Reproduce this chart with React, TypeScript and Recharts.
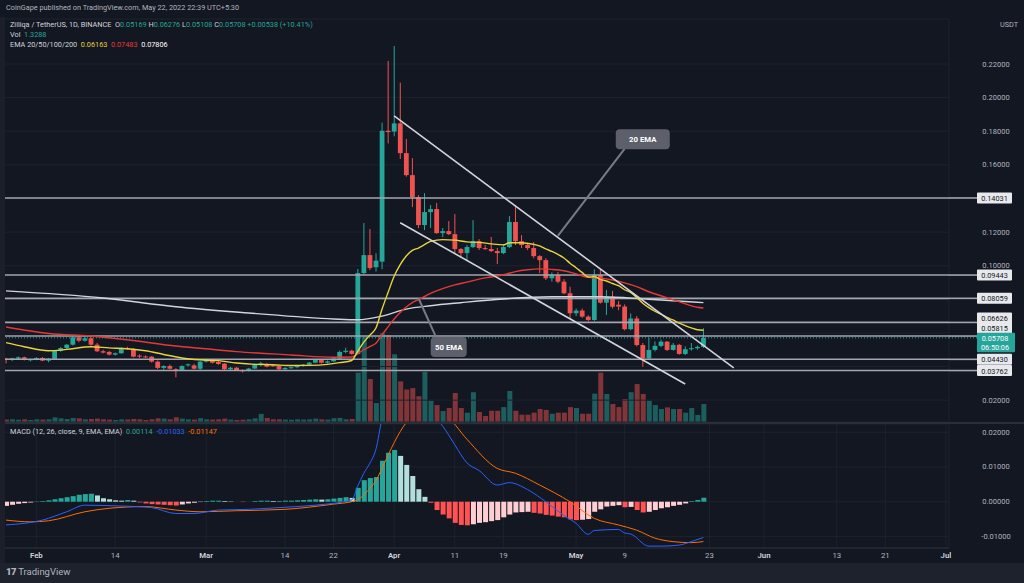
import React from "react";
import {
  ComposedChart,
  Bar,
  Line,
  XAxis,
  YAxis,
  CartesianGrid,
  ReferenceLine,
  ReferenceDot,
  Cell,
} from "recharts";

const FONT = "Roboto, 'Liberation Sans', Arial, sans-serif";
const BG = "#131722";
const UP = "#26a69a";
const DOWN = "#ef5350";
const TXT = "#b2b5be";
const GRID = "#1e222d";

// ---- Daily candles, 27 Jan 2022 .. 22 May 2022 (ZIL/USDT, Binance) ----
const openP = [
  0.0447, 0.0439, 0.0447, 0.0455, 0.044, 0.0443, 0.0451, 0.0435, 0.0445, 0.0494,
  0.051, 0.053, 0.0574, 0.0554, 0.0568, 0.053, 0.0491, 0.0487, 0.0471, 0.0479,
  0.051, 0.0505, 0.0465, 0.046, 0.0459, 0.0429, 0.0392, 0.0403, 0.0384, 0.038,
  0.0411, 0.0407, 0.0387, 0.0429, 0.0433, 0.0427, 0.0417, 0.0384, 0.0393, 0.0378,
  0.0376, 0.0388, 0.0411, 0.0415, 0.0407, 0.0403, 0.0384, 0.0392, 0.0396, 0.0405,
  0.0411, 0.0423, 0.0439, 0.0423, 0.0431, 0.0447, 0.0487, 0.0494, 0.0475, 0.0956,
  0.1063, 0.0991, 0.1024, 0.1803, 0.1798, 0.1847, 0.167, 0.1539, 0.1408, 0.1242,
  0.1319, 0.1337, 0.1194, 0.1206, 0.1188, 0.1099, 0.1075, 0.1111, 0.1146, 0.1105,
  0.1099, 0.1087, 0.1075, 0.1111, 0.126, 0.1146, 0.1123, 0.1105, 0.1057, 0.1033,
  0.0925, 0.0944, 0.0905, 0.0836, 0.0717, 0.0733, 0.0697, 0.0677, 0.0945, 0.078,
  0.0816, 0.0768, 0.0757, 0.0622, 0.0686, 0.0528, 0.0449, 0.0499, 0.0523, 0.0548,
  0.0499, 0.0529, 0.0475, 0.0503, 0.0509, 0.05169,
];
const highP = [
  0.0452, 0.0452, 0.046, 0.0459, 0.0447, 0.0455, 0.0456, 0.045, 0.0498, 0.0516,
  0.0534, 0.0579, 0.0588, 0.0578, 0.0585, 0.054, 0.05, 0.0493, 0.0484, 0.0515,
  0.0518, 0.051, 0.0472, 0.0466, 0.0462, 0.0436, 0.0408, 0.0412, 0.039, 0.0408,
  0.0418, 0.0416, 0.0434, 0.0446, 0.0443, 0.0432, 0.042, 0.0398, 0.0397, 0.0382,
  0.0392, 0.0418, 0.0428, 0.042, 0.041, 0.0408, 0.0396, 0.04, 0.041, 0.0415,
  0.0427, 0.0444, 0.0443, 0.0436, 0.0452, 0.0495, 0.0512, 0.05, 0.098, 0.1254,
  0.1218, 0.1074, 0.1851, 0.2218, 0.2307, 0.2089, 0.1754, 0.164, 0.142, 0.1432,
  0.1361, 0.1373, 0.1224, 0.1266, 0.1307, 0.1105, 0.1123, 0.1271, 0.1158, 0.1123,
  0.1171, 0.1105, 0.1129, 0.1295, 0.1361, 0.1182, 0.1135, 0.1141, 0.1063, 0.1045,
  0.096, 0.0962, 0.092, 0.0875, 0.0745, 0.0745, 0.0705, 0.0979, 0.0977, 0.0856,
  0.085, 0.079, 0.077, 0.0716, 0.07, 0.054, 0.057, 0.055, 0.056, 0.0552,
  0.054, 0.0535, 0.052, 0.054, 0.0525, 0.06276,
];
const lowP = [
  0.0419, 0.0432, 0.0441, 0.0436, 0.043, 0.0438, 0.0432, 0.0425, 0.044, 0.0488,
  0.0503, 0.0525, 0.0545, 0.0548, 0.0524, 0.0486, 0.0478, 0.0466, 0.0465, 0.0476,
  0.05, 0.0455, 0.0452, 0.0452, 0.0424, 0.0385, 0.038, 0.0382, 0.0336, 0.0376,
  0.04, 0.0383, 0.038, 0.0424, 0.0418, 0.041, 0.038, 0.0379, 0.0374, 0.0365,
  0.037, 0.0385, 0.0402, 0.0395, 0.0398, 0.038, 0.0378, 0.0386, 0.039, 0.04,
  0.0405, 0.042, 0.0418, 0.0418, 0.0428, 0.0443, 0.048, 0.047, 0.047, 0.0945,
  0.0974, 0.0965, 0.0979, 0.1728, 0.177, 0.1635, 0.153, 0.1349, 0.1224, 0.1212,
  0.1224, 0.119, 0.117, 0.1182, 0.1075, 0.1045, 0.1033, 0.1105, 0.1093, 0.1093,
  0.1081, 0.101, 0.1069, 0.1105, 0.1123, 0.1105, 0.1093, 0.1045, 0.0956, 0.0915,
  0.0905, 0.0895, 0.083, 0.0689, 0.07, 0.069, 0.067, 0.0672, 0.0775, 0.0707,
  0.0745, 0.0735, 0.0615, 0.0616, 0.052, 0.0399, 0.044, 0.049, 0.0515, 0.0492,
  0.0495, 0.047, 0.0468, 0.0495, 0.05, 0.05108,
];
const closeP = [
  0.0439, 0.0449, 0.0455, 0.0439, 0.0443, 0.0451, 0.0435, 0.0447, 0.0494, 0.051,
  0.053, 0.0574, 0.0554, 0.0568, 0.053, 0.0491, 0.0483, 0.0471, 0.0479, 0.051,
  0.0503, 0.0459, 0.0459, 0.0458, 0.0429, 0.0392, 0.0403, 0.0387, 0.038, 0.0403,
  0.0413, 0.0387, 0.0429, 0.0439, 0.0423, 0.0415, 0.0384, 0.0393, 0.0378, 0.0372,
  0.0388, 0.0413, 0.0419, 0.0399, 0.0403, 0.0384, 0.0392, 0.0396, 0.0405, 0.0411,
  0.0423, 0.0439, 0.0423, 0.0431, 0.0447, 0.0487, 0.0494, 0.0475, 0.0956, 0.1063,
  0.0986, 0.103, 0.1803, 0.1795, 0.1847, 0.167, 0.1539, 0.1408, 0.1242, 0.1319,
  0.1337, 0.1194, 0.1206, 0.1188, 0.1099, 0.1075, 0.1111, 0.1146, 0.1105, 0.1099,
  0.1087, 0.1075, 0.1111, 0.126, 0.1146, 0.1123, 0.1105, 0.1057, 0.1033, 0.0925,
  0.0944, 0.0905, 0.0836, 0.0717, 0.0733, 0.0697, 0.0677, 0.0945, 0.078, 0.0816,
  0.0756, 0.0757, 0.0622, 0.0686, 0.0528, 0.0449, 0.0499, 0.0523, 0.0548, 0.0499,
  0.0529, 0.0475, 0.0503, 0.0509, 0.0517, 0.05708,
];
// volume (billions ZIL)
const volume = [
  0.18, 0.2, 0.17, 0.2, 0.15, 0.2, 0.18, 0.2, 0.34, 0.27,
  0.22, 0.3, 0.27, 0.2, 0.22, 0.25, 0.2, 0.18, 0.15, 0.2,
  0.18, 0.22, 0.2, 0.15, 0.2, 0.27, 0.25, 0.2, 0.35, 0.25,
  0.2, 0.18, 0.28, 0.2, 0.18, 0.2, 0.25, 0.18, 0.15, 0.17,
  0.2, 0.27, 0.6, 0.3, 0.2, 0.2, 0.18, 0.17, 0.2, 0.18,
  0.2, 0.25, 0.2, 0.18, 0.28, 0.3, 0.2, 0.22, 3.64, 6.3,
  3.17, 1.4, 6.6, 6.4, 5.0, 3.0, 2.4, 2.5, 1.9, 3.7,
  1.57, 1.25, 0.81, 1.03, 2.14, 1.03, 0.69, 2.2, 0.74, 0.44,
  0.83, 0.83, 1.1, 2.29, 0.83, 0.54, 0.54, 0.69, 0.96, 0.89,
  0.61, 0.69, 0.69, 1.1, 1.03, 0.61, 0.61, 2.09, 3.64, 2.07,
  1.33, 1.1, 1.7, 2.2, 2.8, 2.07, 1.57, 1.25, 0.96, 1.08,
  0.96, 0.96, 0.69, 1.03, 0.52, 1.3288,
];
// MACD histogram (12, 26, 9)
const macdHist = [
  -0.0012, -0.0009, -0.0006, -0.0004, -0.0002, 0.0001, 0.0002, 0.0004, 0.0007, 0.001,
  0.0013, 0.0016, 0.002, 0.0022, 0.0023, 0.0018, 0.001, 0.0007, 0.0004, 0.0003,
  0.0005, 0.0003, -0.0002, -0.0005, -0.0007, -0.0008, -0.0009, -0.001, -0.0011, -0.0008,
  -0.0005, -0.0003, -0.0001, 0.0002, 0.0003, 0.0003, 0.0002, 0.0001, 0.0, -0.0001,
  0.0, 0.0002, 0.0003, 0.0003, 0.0002, 0.0002, 0.0003, 0.0003, 0.0004, 0.0005,
  0.0006, 0.0007, 0.0006, 0.0007, 0.0009, 0.0011, 0.0013, 0.0011, 0.004, 0.0062,
  0.0068, 0.0071, 0.0118, 0.0141, 0.0149, 0.0132, 0.0106, 0.0074, 0.0036, 0.0014,
  -0.0003, -0.0024, -0.0037, -0.0048, -0.0061, -0.0067, -0.0068, -0.0065, -0.0061, -0.0059,
  -0.0056, -0.0053, -0.0045, -0.0037, -0.0031, -0.003, -0.0029, -0.0032, -0.0034, -0.0038,
  -0.004, -0.0043, -0.0045, -0.0051, -0.0053, -0.0052, -0.005, -0.0029, -0.0022, -0.0014,
  -0.0012, -0.001, -0.0016, -0.0015, -0.0024, -0.0031, -0.0029, -0.0024, -0.0019, -0.0016,
  -0.0012, -0.0009, -0.0005, 0.0002, 0.0005, 0.00114,
];

// Indicator lines: [day index, value]
const ema20Pts = [
  [0, 0.0542], [3, 0.0518], [7, 0.0494], [10, 0.0502], [14, 0.0518], [17, 0.0511],
  [20, 0.0506], [23, 0.0494], [26, 0.0472], [29, 0.0451], [32, 0.044], [35, 0.0435],
  [38, 0.0421], [41, 0.0413], [44, 0.0411], [47, 0.0406], [50, 0.0407], [53, 0.0413],
  [55, 0.0423], [57, 0.0436], [58, 0.0491], [59, 0.0545], [60, 0.0587], [61, 0.0629],
  [62, 0.0741], [63, 0.0841], [64, 0.0937], [65, 0.1007], [66, 0.1058], [67, 0.1091],
  [68, 0.1105], [69, 0.1125], [70, 0.1145], [72, 0.1155], [74, 0.1152], [76, 0.1142],
  [78, 0.1139], [80, 0.113], [82, 0.1124], [83, 0.1137], [85, 0.1137], [87, 0.1127],
  [88, 0.1118], [89, 0.11], [90, 0.1085], [91, 0.1068], [92, 0.1046], [93, 0.1015],
  [94, 0.0988], [95, 0.096], [96, 0.0933], [97, 0.0934], [98, 0.0919], [99, 0.0909],
  [100, 0.0894], [101, 0.0881], [102, 0.0857], [103, 0.0841], [104, 0.0811], [105, 0.0777],
  [106, 0.0751], [107, 0.0729], [108, 0.0712], [109, 0.0692], [110, 0.0677], [111, 0.0658],
  [112, 0.0643], [113, 0.063], [114, 0.0619], [115, 0.06163],
];
const ema50Pts = [
  [0, 0.0635], [7, 0.0597], [14, 0.0582], [21, 0.0555], [28, 0.0522], [32, 0.0509],
  [38, 0.0489], [47, 0.0469], [54, 0.0455], [57, 0.0457], [58, 0.0477], [59, 0.05],
  [60, 0.0519], [61, 0.0539], [62, 0.0589], [63, 0.0636], [64, 0.0683], [65, 0.0722],
  [66, 0.0754], [67, 0.078], [68, 0.0798], [70, 0.0836], [72, 0.0864], [74, 0.0886],
  [76, 0.0902], [78, 0.092], [80, 0.0933], [82, 0.0946], [84, 0.0965], [86, 0.0976],
  [88, 0.0981], [90, 0.0978], [92, 0.097], [94, 0.0951], [96, 0.0931], [98, 0.0926],
  [100, 0.0915], [102, 0.0898], [104, 0.0876], [106, 0.0845], [108, 0.0821], [110, 0.0797],
  [112, 0.0773], [114, 0.0753], [115, 0.07483],
];
const ema200Pts = [
  [0, 0.085], [16, 0.0808], [28, 0.0756], [40, 0.0719], [54, 0.0683], [58, 0.0678],
  [62, 0.07], [66, 0.0742], [70, 0.0762], [75, 0.078], [82, 0.0802], [90, 0.0815],
  [98, 0.0815], [106, 0.08], [115, 0.07806],
];
const macdPts = [
  [0, -0.0067], [6, -0.0053], [10, -0.0029], [13, -0.001], [18, -0.0012], [24, -0.0017],
  [28, -0.0034], [31, -0.0034], [35, -0.0024], [40, -0.0022], [46, -0.0016], [51, -0.001],
  [57, 0.0005], [58, 0.0045], [59, 0.0082], [60, 0.0111], [61, 0.0151], [62, 0.0238],
  [63, 0.0286], [64, 0.0314], [65, 0.0332], [66, 0.0331], [67, 0.0319], [68, 0.0291],
  [69, 0.0279], [70, 0.0262], [71, 0.0238], [72, 0.0218], [73, 0.0192], [74, 0.0164],
  [76, 0.0112], [78, 0.009], [81, 0.0048], [83, 0.0055], [86, 0.0035], [89, 0.0],
  [92, -0.004], [94, -0.0062], [96, -0.0094], [97, -0.0083], [101, -0.008], [102, -0.009],
  [103, -0.0093], [106, -0.0128], [108, -0.0128], [111, -0.0125], [113, -0.0115], [115, -0.01033],
];
const signalPts = [
  [0, -0.0053], [4, -0.0058], [7, -0.0055], [13, -0.0029], [17, -0.0019], [23, -0.0014],
  [28, -0.0024], [32, -0.0029], [38, -0.0026], [46, -0.0022], [54, -0.0007], [57, 0.0],
  [58, 0.0005], [59, 0.002], [60, 0.0038], [61, 0.0061], [62, 0.0096], [63, 0.0134],
  [64, 0.017], [65, 0.0202], [66, 0.0228], [67, 0.0246], [68, 0.0255], [70, 0.026],
  [71, 0.0256], [73, 0.024], [76, 0.018], [81, 0.0096], [84, 0.0082], [88, 0.0048],
  [93, 0.0], [97, -0.0048], [101, -0.0067], [104, -0.0082], [107, -0.0105], [110, -0.0115],
  [113, -0.0118], [115, -0.01147],
];

// horizontal levels drawn on the chart, and how far their price tags are nudged up
const levels = [0.14031, 0.09443, 0.08059, 0.06626, 0.05815, 0.0443, 0.03762];
const levelTagShift = [0, 0, 0, -4.5, -8, 0, 0];
const lastPrice = 0.05708;

// time axis
const N_CAT = 156; // 27 Jan .. 30 Jun
const tickIdx = [5, 18, 33, 46, 54, 64, 74, 82, 94, 102, 116, 125, 137, 145, 155];
const tickLabels = ["Feb", "14", "Mar", "14", "22", "Apr", "11", "19", "May", "9", "23", "Jun", "13", "21", "Jul"];
const boldTicks = ["Feb", "Mar", "Apr", "May", "Jun", "Jul"];
const priceTicks = [0.02, 0.04, 0.06, 0.08, 0.1, 0.12, 0.14, 0.16, 0.18, 0.2, 0.22];
const hiddenPriceTicks = [0.04, 0.06, 0.08, 0.14];
const macdTicks = [-0.01, 0, 0.01, 0.02];

// trend channel and callouts (in data coordinates)
const upperTrend = [{ x: 64, y: 0.1891 }, { x: 120, y: 0.0392 }];
const lowerTrend = [{ x: 65, y: 0.1256 }, { x: 112, y: 0.0296 }];
const ema20Pointer = [{ x: 91, y: 0.1177 }, { x: 102, y: 0.1695 }];
const ema20Box = { x: 105, y: 0.1752, text: "20 EMA" };
const ema50Pointer = [{ x: 68, y: 0.0808 }, { x: 71, y: 0.0568 }];
const ema50Box = { x: 73, y: 0.0517, text: "50 EMA" };

const rows: any[] = Array.from({ length: N_CAT }, (_, i) => {
  const r: any = { d: i };
  if (i < closeP.length) {
    r.o = openP[i];
    r.h = highP[i];
    r.l = lowP[i];
    r.c = closeP[i];
    r.range = [lowP[i], highP[i]];
    r.vol = volume[i];
    r.hist = macdHist[i];
  }
  return r;
});
ema20Pts.forEach(([i, v]) => (rows[i].ema20 = v));
ema50Pts.forEach(([i, v]) => (rows[i].ema50 = v));
ema200Pts.forEach(([i, v]) => (rows[i].ema200 = v));
macdPts.forEach(([i, v]) => (rows[i].macd = v));
signalPts.forEach(([i, v]) => (rows[i].signal = v));

const histColor = (i: number) => {
  const v = macdHist[i];
  const p = i > 0 ? macdHist[i - 1] : v;
  if (v >= 0) return v >= p ? "#26a69a" : "#b2dfdb";
  return v < p ? "#ff5252" : "#ffcdd2";
};

const Candle = (props: any) => {
  const { x, y, width, height, payload } = props;
  if (!payload || payload.o == null) return null;
  const { o, h, l, c } = payload;
  const top = Math.min(y, y + height);
  const hh = Math.abs(height);
  const py = (v: number) => (h === l ? top : top + ((h - v) / (h - l)) * hh);
  const cx = x + width / 2;
  const color = c >= o ? UP : DOWN;
  const bt = py(Math.max(o, c));
  const bb = py(Math.min(o, c));
  return (
    <g>
      <line x1={cx} x2={cx} y1={top} y2={top + hh} stroke={color} strokeWidth={1} />
      <rect x={cx - 2.4} y={bt} width={4.8} height={Math.max(bb - bt, 1)} fill={color} />
    </g>
  );
};

const PriceTick = (props: any) => {
  const { x, y, payload } = props;
  if (hiddenPriceTicks.some((t) => Math.abs(t - payload.value) < 1e-9)) return null;
  return (
    <text x={x + 47} y={y} textAnchor="middle" dominantBaseline="central" fill={TXT} fontSize={7.5} fontFamily={FONT}>
      {payload.value.toFixed(5)}
    </text>
  );
};

const MacdTick = (props: any) => {
  const { x, y, payload } = props;
  return (
    <text x={x + 47} y={y} textAnchor="middle" dominantBaseline="central" fill={TXT} fontSize={7.5} fontFamily={FONT}>
      {payload.value.toFixed(5)}
    </text>
  );
};

const DateTick = (props: any) => {
  const { x, y, payload } = props;
  const k = tickIdx.indexOf(payload.value);
  const label = tickLabels[k];
  const bold = boldTicks.includes(label);
  return (
    <text
      x={x}
      y={y + 7}
      textAnchor="middle"
      dominantBaseline="central"
      fill={bold ? "#d1d4dc" : TXT}
      fontWeight={bold ? 600 : 400}
      fontSize={7.8}
      fontFamily={FONT}
    >
      {label}
    </text>
  );
};

const LevelLabel = (props: any) => {
  const { viewBox, value, shift, color } = props;
  if (!viewBox) return null;
  const x0 = viewBox.x + viewBox.width;
  const bx = x0 + 28;
  const cy = viewBox.y + (shift || 0);
  return (
    <g>
      <line x1={x0} x2={bx} y1={viewBox.y} y2={viewBox.y} stroke={color} strokeWidth={1.6} />
      <rect x={bx} y={cy - 5.5} width={35} height={11} fill="#e8e9ec" rx={1} />
      <text x={bx + 17.5} y={cy + 0.5} textAnchor="middle" dominantBaseline="central" fill="#131722" fontSize={7.3} fontFamily={FONT}>
        {value.toFixed(5)}
      </text>
    </g>
  );
};

const LastLabel = (props: any) => {
  const { viewBox, value } = props;
  if (!viewBox) return null;
  const x0 = viewBox.x + viewBox.width;
  const bx = x0 + 28;
  return (
    <g>
      <line x1={x0} x2={bx} y1={viewBox.y} y2={viewBox.y} stroke={UP} strokeWidth={1} strokeDasharray="1 2" />
      <rect x={bx} y={viewBox.y - 5} width={38} height={19.5} fill={UP} rx={1} />
      <text x={bx + 18} y={viewBox.y + 0.5} textAnchor="middle" dominantBaseline="central" fill="#ffffff" fontSize={7.3} fontFamily={FONT}>
        {value.toFixed(5)}
      </text>
      <text x={bx + 18} y={viewBox.y + 9.3} textAnchor="middle" dominantBaseline="central" fill="#ffffff" fontSize={7.3} fontFamily={FONT}>
        06:50:06
      </text>
    </g>
  );
};

const CalloutBox = (text: string, w: number) => (props: any) => {
  const { cx, cy } = props;
  if (cx == null || cy == null) return null;
  return (
    <g>
      <rect x={cx - w / 2} y={cy - 10} width={w} height={20} rx={4} fill="#5d606b" />
      <text x={cx} y={cy + 0.5} textAnchor="middle" dominantBaseline="central" fill="#ffffff" fontSize={7.8} fontWeight={700} fontFamily={FONT}>
        {text}
      </text>
    </g>
  );
};

const W = 1024;
const PLOT_RIGHT_W = 75;
const LEVEL_COLOR = "#a3a6af";

export default function App() {
  const legendStyle: React.CSSProperties = {
    position: "absolute",
    left: 10,
    fontSize: 7.3,
    color: "#d1d4dc",
    whiteSpace: "pre",
    lineHeight: "10px",
  };
  return (
    <div
      style={{
        position: "absolute",
        left: 0,
        top: 0,
        width: W,
        height: 583,
        background: BG,
        overflow: "hidden",
        fontFamily: FONT,
      }}
    >
      {/* volume layer */}
      <div style={{ position: "absolute", left: 0, top: 0 }}>
        <ComposedChart width={W} height={422} data={rows} margin={{ top: 19, right: PLOT_RIGHT_W, bottom: 0, left: 3 }}>
          <XAxis dataKey="d" type="category" hide />
          <YAxis yAxisId="v" hide domain={[0, 29.75]} allowDataOverflow />
          <Bar yAxisId="v" dataKey="vol" barSize={5} isAnimationActive={false}>
            {rows.map((r, i) => (
              <Cell key={i} fill={r.c >= r.o ? UP : DOWN} fillOpacity={0.5} />
            ))}
          </Bar>
        </ComposedChart>
      </div>

      {/* price layer */}
      <div style={{ position: "absolute", left: 0, top: 0 }}>
        <ComposedChart width={W} height={422} data={rows} margin={{ top: 19, right: 0, bottom: 0, left: 3 }}>
          <CartesianGrid stroke={GRID} strokeWidth={1} />
          <XAxis dataKey="d" type="category" ticks={tickIdx} interval={0} height={0} tick={false} axisLine={false} tickLine={false} />
          <YAxis
            orientation="right"
            width={PLOT_RIGHT_W}
            domain={[0.007, 0.2468]}
            allowDataOverflow
            ticks={priceTicks}
            interval={0}
            tickSize={0}
            tickMargin={0}
            axisLine={false}
            tickLine={false}
            tick={<PriceTick />}
          />
          {levels.map((v, k) => (
            <ReferenceLine
              key={v}
              y={v}
              stroke={LEVEL_COLOR}
              strokeWidth={1.6}
              label={<LevelLabel value={v} shift={levelTagShift[k]} color={LEVEL_COLOR} />}
            />
          ))}
          <ReferenceLine y={lastPrice} stroke={UP} strokeWidth={1} strokeDasharray="1 2" label={<LastLabel value={lastPrice} />} />
          <Line dataKey="ema200" type="monotone" stroke="#d1d4dc" strokeWidth={1.4} dot={false} connectNulls isAnimationActive={false} />
          <Line dataKey="ema50" type="monotone" stroke="#e53935" strokeWidth={1.4} dot={false} connectNulls isAnimationActive={false} />
          <Line dataKey="ema20" type="monotone" stroke="#e9d33a" strokeWidth={1.4} dot={false} connectNulls isAnimationActive={false} />
          <Bar dataKey="range" shape={<Candle />} isAnimationActive={false} />
          <ReferenceLine segment={upperTrend} stroke="#d1d4dc" strokeWidth={1.6} />
          <ReferenceLine segment={lowerTrend} stroke="#d1d4dc" strokeWidth={1.6} />
          <ReferenceLine segment={ema20Pointer} stroke="#787b86" strokeWidth={2} />
          <ReferenceLine segment={ema50Pointer} stroke="#787b86" strokeWidth={2} />
          <ReferenceDot x={ema20Box.x} y={ema20Box.y} r={0} shape={CalloutBox(ema20Box.text, 54)} />
          <ReferenceDot x={ema50Box.x} y={ema50Box.y} r={0} shape={CalloutBox(ema50Box.text, 36)} />
        </ComposedChart>
      </div>

      {/* MACD pane */}
      <div style={{ position: "absolute", left: 0, top: 422 }}>
        <ComposedChart width={W} height={141} data={rows} margin={{ top: 2, right: 0, bottom: 0, left: 3 }}>
          <CartesianGrid stroke={GRID} strokeWidth={1} />
          <XAxis dataKey="d" type="category" ticks={tickIdx} interval={0} height={15} tickSize={0} tickMargin={0} axisLine={{ stroke: "#2a2e39" }} tickLine={false} tick={<DateTick />} />
          <YAxis
            orientation="right"
            width={PLOT_RIGHT_W}
            domain={[-0.01334, 0.02239]}
            allowDataOverflow
            ticks={macdTicks}
            interval={0}
            tickSize={0}
            tickMargin={0}
            axisLine={false}
            tickLine={false}
            tick={<MacdTick />}
          />
          <Bar dataKey="hist" barSize={5} isAnimationActive={false}>
            {rows.map((r, i) => (
              <Cell key={i} fill={i < macdHist.length ? histColor(i) : "none"} />
            ))}
          </Bar>
          <Line dataKey="signal" type="monotone" stroke="#ff6d00" strokeWidth={1} dot={false} connectNulls isAnimationActive={false} />
          <Line dataKey="macd" type="monotone" stroke="#2962ff" strokeWidth={1} dot={false} connectNulls isAnimationActive={false} />
        </ComposedChart>
      </div>

      {/* pane separator */}
      <div style={{ position: "absolute", left: 0, top: 422, width: W, height: 2, background: "#2a2e39" }} />
      {/* left frame strip */}
      <div style={{ position: "absolute", left: 0, top: 0, width: 5, height: 583, background: "#1c1f2a" }} />
      {/* header */}
      <div style={{ position: "absolute", left: 0, top: 0, width: W, height: 17, background: BG }} />
      <div style={{ ...legendStyle, left: 6, top: 3, color: TXT }}>CoinGape published on TradingView.com, May 22, 2022 22:39 UTC+5:30</div>
      <div style={{ ...legendStyle, top: 20 }}>
        Zilliqa / TetherUS, 1D, BINANCE  O<span style={{ color: UP }}>0.05169</span> H<span style={{ color: UP }}>0.06276</span> L<span style={{ color: UP }}>0.05108</span> C<span style={{ color: UP }}>0.05708</span> <span style={{ color: UP }}>+0.00538 (+10.41%)</span>
      </div>
      <div style={{ ...legendStyle, top: 30 }}>
        Vol  <span style={{ color: UP }}>1.3288</span>
      </div>
      <div style={{ ...legendStyle, top: 40 }}>
        EMA 20/50/100/200  <span style={{ color: "#e9d33a" }}>0.06163</span>  <span style={{ color: "#e53935" }}>0.07483</span>  <span style={{ color: "#ffffff" }}>0.07806</span>
      </div>
      <div style={{ ...legendStyle, top: 427 }}>
        MACD (12, 26, close, 9, EMA, EMA)  <span style={{ color: UP }}>0.00114</span>  <span style={{ color: "#2962ff" }}>-0.01033</span>  <span style={{ color: "#ff6d00" }}>-0.01147</span>
      </div>
      <div style={{ ...legendStyle, left: 1000, top: 20, color: TXT }}>USDT</div>
      {/* footer */}
      <div style={{ position: "absolute", left: 0, top: 563, width: W, height: 20, background: "#1e222d" }} />
      <div style={{ position: "absolute", left: 6, top: 566, fontSize: 9.5, color: TXT, whiteSpace: "pre", lineHeight: "12px" }}>
        <span style={{ fontWeight: 900, letterSpacing: -0.5 }}>17</span> TradingView
      </div>
    </div>
  );
}
